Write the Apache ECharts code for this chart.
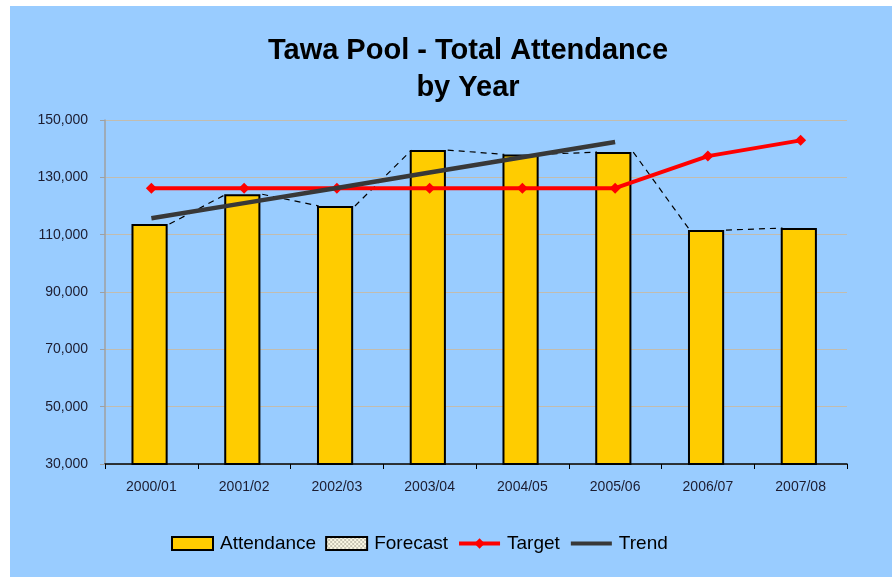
<!DOCTYPE html>
<html>
<head>
<meta charset="utf-8">
<script src="https://cdn.jsdelivr.net/npm/echarts@6/dist/echarts.min.js"></script>
<style>
html,body{margin:0;padding:0;background:#ffffff;}
#main{width:892px;height:577px;}
</style>
</head>
<body>
<div id="main"></div>
<script>
var categories = ['2000/01','2001/02','2002/03','2003/04','2004/05','2005/06','2006/07','2007/08'];
var attendance = [113700, 124100, 120000, 139500, 138000, 138800, 111600, 112300];
var target = [126200, 126200, 126200, 126200, 126200, 126200, 137400, 142900];
var trend = [115700, 121000, 126300, 131700, 137000, 142300, null, null];
var forecast = [];
var yTicks = {min: 30000, max: 150000, interval: 20000};

// checker pattern for Forecast legend icon
var pc = document.createElement('canvas');
pc.width = 4; pc.height = 4;
var pctx = pc.getContext('2d');
pctx.fillStyle = '#fbf8e4'; pctx.fillRect(0,0,4,4);
pctx.fillStyle = '#c9c6b4'; pctx.fillRect(0,0,2,2); pctx.fillRect(2,2,2,2);

var seriesLineData = [];
for (var i = 0; i < attendance.length - 1; i++) {
  seriesLineData.push([i, attendance[i], attendance[i + 1]]);
}

var chart = echarts.init(document.getElementById('main'), null, {renderer: 'canvas'});
var txt = '#1c1c30';
var option = {
  backgroundColor: 'transparent',
  animation: false,
  graphic: [{
    type: 'rect', left: 10, top: 6, z: -10, silent: true,
    shape: {width: 882, height: 571},
    style: {fill: '#99CCFF'}
  }],
  title: {
    text: 'Tawa Pool - Total Attendance\nby Year',
    left: 463, top: 27, textAlign: 'center',
    textStyle: {fontFamily: 'Liberation Sans, Arial', fontWeight: 'bold', fontSize: 29, lineHeight: 37, color: '#000'}
  },
  legend: {
    left: 166, top: 529,
    itemWidth: 41, itemHeight: 13, itemGap: 9,
    textStyle: {fontFamily: 'Liberation Sans, Arial', fontSize: 19, color: '#000', padding: [0,0,0,2]},
    data: [
      {name: 'Attendance', icon: 'rect'},
      {name: 'Forecast', icon: 'rect'},
      {name: 'Target', lineStyle: {width: 4, color: '#FF0000'}},
      {name: 'Trend', itemStyle: {opacity: 0}, lineStyle: {width: 4, color: '#383838'}}
    ]
  },
  grid: {left: 105, right: 45, top: 120, bottom: 113},
  xAxis: {
    type: 'category', data: categories, boundaryGap: true,
    axisLine: {lineStyle: {color: '#000', width: 1.5}},
    axisTick: {show: true, length: 5, lineStyle: {color: '#000'}},
    axisLabel: {fontFamily: 'Liberation Sans, Arial', fontSize: 14, color: txt, margin: 16}
  },
  yAxis: {
    type: 'value', min: yTicks.min, max: yTicks.max, interval: yTicks.interval,
    axisLine: {show: true, lineStyle: {color: '#a0a0a0', width: 1.5}},
    axisTick: {show: true, length: 5, lineStyle: {color: '#a0a0a0'}},
    splitLine: {lineStyle: {color: '#c2bcae', width: 1}},
    axisLabel: {
      fontFamily: 'Liberation Sans, Arial', fontSize: 14, color: txt, margin: 17,
      formatter: function (v) { return v.toLocaleString('en-US'); }
    }
  },
  series: [
    {
      name: 'Attendance', type: 'bar', data: attendance, barWidth: '39%', z: 3,
      itemStyle: {color: '#FFCC00', borderColor: '#000', borderWidth: 2}
    },
    {
      name: 'Forecast', type: 'bar', data: forecast, stack: 'f',
      itemStyle: {color: {image: pc, repeat: 'repeat'}, borderColor: '#000', borderWidth: 1.5}
    },
    {
      name: 'seriesLines', type: 'custom', data: seriesLineData, z: 2, silent: true,
      renderItem: function (params, api) {
        var i = api.value(0);
        var hw = api.size([1, 0])[0] * 0.39 / 2;
        var p1 = api.coord([i, api.value(1)]);
        var p2 = api.coord([i + 1, api.value(2)]);
        return {
          type: 'line',
          shape: {x1: p1[0] + hw, y1: p1[1], x2: p2[0] - hw, y2: p2[1]},
          style: {stroke: '#000', lineWidth: 1.2, lineDash: [6, 5]}
        };
      }
    },
    {
      name: 'Target', type: 'line', data: target, z: 5,
      symbol: 'diamond', symbolSize: 11, showSymbol: true,
      lineStyle: {color: '#FF0000', width: 4},
      itemStyle: {color: '#FF0000'}
    },
    {
      name: 'Trend', type: 'line', data: trend, z: 6,
      symbol: 'none', connectNulls: false,
      lineStyle: {color: '#383838', width: 4.5},
      itemStyle: {color: '#383838'}
    }
  ]
};
chart.setOption(option);
</script>
</body>
</html>
